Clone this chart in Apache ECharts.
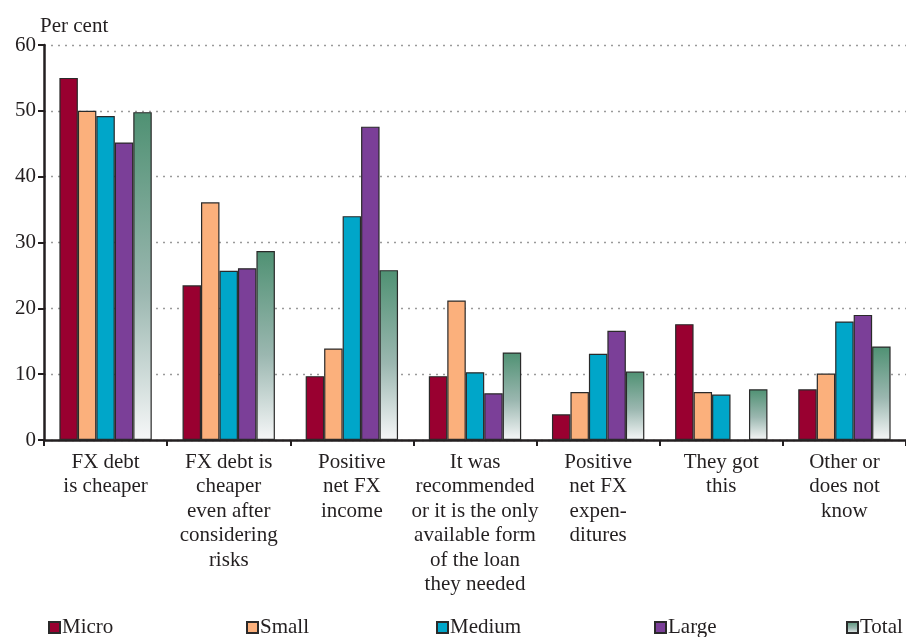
<!DOCTYPE html>
<html>
<head>
<meta charset="utf-8">
<script src="https://cdn.jsdelivr.net/npm/echarts@6/dist/echarts.min.js"></script>
<style>
  html, body { margin: 0; padding: 0; background: #fff; }
  #chart { width: 906px; height: 637px; }
</style>
</head>
<body>
<div id="chart"></div>
<script>
// categories along the x axis
const categories = [
  'FX debt\nis cheaper',
  'FX debt is\ncheaper\neven after\nconsidering\nrisks',
  'Positive\nnet FX\nincome',
  'It was\nrecommended\nor it is the only\navailable form\nof the loan\nthey needed',
  'Positive\nnet FX\nexpen-\nditures',
  'They got\nthis',
  'Other or\ndoes not\nknow'
]

// per cent of firms
const micro = [55, 23.5, 9.7, 9.7, 3.9, 17.6, 7.7]
const small = [50, 36.1, 13.9, 21.2, 7.3, 7.3, 10.1]
const medium = [49.2, 25.7, 34.0, 10.3, 13.1, 6.9, 18.0]
const large = [45.2, 26.1, 47.6, 7.1, 16.6, null, 19.0]
const total = [49.8, 28.7, 25.8, 13.3, 10.4, 7.7, 14.2]

const yTicks = [0, 10, 20, 30, 40, 50, 60]

const serif = 'Liberation Serif'
const ink = '#231f20'
const fs = 21

const chart = echarts.init(document.getElementById('chart'))

function bar(name, data, color) {
  return {
    name: name,
    type: 'bar',
    data: data,
    barGap: '0%',
    barCategoryGap: '25%',
    itemStyle: { color: color, borderColor: '#2a2a2a', borderWidth: 1.2 },
    emphasis: { disabled: true }
  }
}

const totalGradient = new echarts.graphic.LinearGradient(0, 0, 0, 1, [
  { offset: 0, color: '#4f9173' },
  { offset: 0.55, color: '#9bb7b0' },
  { offset: 1, color: '#f6f7f8' }
])

const legendNames = ['Micro', 'Small', 'Medium', 'Large', 'Total']
const legendLeft = [48, 246, 436, 654, 846]

const option = {
  animation: false,
  title: {
    text: 'Per cent',
    left: 40,
    top: 16,
    padding: 0,
    textStyle: { fontFamily: serif, fontSize: fs, fontWeight: 'normal', color: ink }
  },
  legend: legendNames.map((n, i) => ({
    data: [n],
    left: legendLeft[i],
    top: 617,
    icon: 'rect',
    itemWidth: 11,
    itemHeight: 11,
    itemGap: 0,
    padding: 0,
    textStyle: { fontFamily: serif, fontSize: fs, color: ink, padding: [0, 0, 0, -3] }
  })),
  grid: { left: 44, right: -3, top: 45, bottom: 197, containLabel: false },
  xAxis: {
    type: 'category',
    data: categories,
    axisLine: { lineStyle: { color: ink, width: 2.5 } },
    axisTick: { show: true, length: 6, lineStyle: { color: ink, width: 2 } },
    axisLabel: {
      interval: 0,
      fontFamily: serif,
      fontSize: fs,
      color: ink,
      lineHeight: 24.5,
      margin: 10
    }
  },
  yAxis: {
    type: 'value',
    min: yTicks[0],
    max: yTicks[yTicks.length - 1],
    interval: 10,
    axisLine: { show: true, lineStyle: { color: ink, width: 2.5 } },
    axisTick: { show: true, length: 6, lineStyle: { color: ink, width: 2 } },
    splitLine: { lineStyle: { color: '#9a9a9a', type: [2, 5], width: 1.3 } },
    axisLabel: { fontFamily: serif, fontSize: fs, color: ink, margin: 8 }
  },
  series: [
    bar('Micro', micro, '#990030'),
    bar('Small', small, '#fbb07c'),
    bar('Medium', medium, '#00a6c9'),
    bar('Large', large, '#7b3f98'),
    bar('Total', total, totalGradient)
  ]
}

chart.setOption(option)
</script>
</body>
</html>
